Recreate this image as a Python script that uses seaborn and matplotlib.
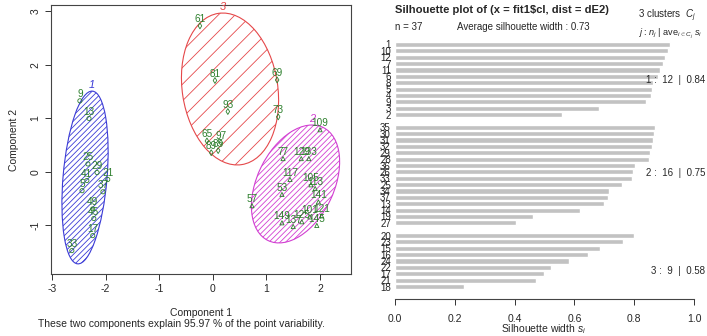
import numpy as np
import pandas as pd
import matplotlib
matplotlib.use("Agg")
import matplotlib.pyplot as plt
from matplotlib.patches import Ellipse
import seaborn as sns

# clusplot: point labels, components, cluster ids
pt_labels = ['9', '13', '25', '29', '41', '5', '21', '37', '49', '45', '17', '33',
             '61', '81', '69', '93', '73', '65', '97', '89', '85',
             '109', '77', '129', '133', '117', '105', '113', '53', '141', '57',
             '149', '137', '125', '101', '121', '145']
comp1 = [-2.48, -2.31, -2.33, -2.16, -2.35, -2.44, -1.96, -2.05, -2.24, -2.22, -2.24, -2.63,
         -0.24, 0.04, 1.20, 0.28, 1.22, -0.11, 0.15, -0.03, 0.10,
         2.00, 1.31, 1.65, 1.79, 1.44, 1.83, 1.91, 1.29, 1.97, 0.73,
         1.29, 1.50, 1.66, 1.81, 2.03, 1.94]
comp2 = [1.33, 1.00, 0.15, -0.01, -0.16, -0.35, -0.14, -0.37, -0.69, -0.87, -1.19, -1.47,
         2.73, 1.71, 1.72, 1.13, 1.03, 0.58, 0.55, 0.36, 0.40,
         0.79, 0.25, 0.25, 0.25, -0.14, -0.24, -0.31, -0.42, -0.56, -0.63,
         -0.95, -1.02, -0.93, -0.84, -0.82, -1.00]
pt_cluster = [1] * 12 + [3] * 9 + [2] * 16

# spanning ellipses: cluster, center x, center y, width, height, angle
ell_cluster = [1, 3, 2]
ell_cx = [-2.384, 0.321, 1.543]
ell_cy = [-0.103, 1.551, -0.224]
ell_w = [3.24, 2.86, 2.35]
ell_h = [0.82, 1.78, 1.43]
ell_angle = [85.1, 98.8, 64.1]
ell_color = {1: '#3b3bd6', 2: '#d23fd2', 3: '#e5484a'}
ell_hatch = {1: '//////', 2: '//////', 3: '//'}

# silhouette widths
sil_lab1 = ['1', '10', '12', '7', '11', '6', '8', '5', '4', '9', '3', '2']
sil_val1 = [0.920, 0.914, 0.903, 0.895, 0.886, 0.878, 0.862, 0.860, 0.856, 0.838, 0.683, 0.557]
sil_lab2 = ['35', '30', '31', '32', '29', '28', '36', '26', '33', '25', '34', '37', '13', '14', '19', '27']
sil_val2 = [0.870, 0.866, 0.864, 0.861, 0.853, 0.851, 0.804, 0.797, 0.792, 0.760,
            0.716, 0.714, 0.700, 0.620, 0.460, 0.405]
sil_lab3 = ['20', '23', '15', '16', '24', '22', '17', '21', '18']
sil_val3 = [0.799, 0.761, 0.686, 0.647, 0.583, 0.521, 0.498, 0.472, 0.232]

sns.set_style("white")
plt.rcParams['font.family'] = ['Liberation Sans', 'DejaVu Sans']
plt.rcParams['mathtext.fontset'] = 'custom'
plt.rcParams['mathtext.rm'] = 'Liberation Sans'
plt.rcParams['mathtext.it'] = 'Liberation Sans:italic'
plt.rcParams['hatch.linewidth'] = 0.6
plt.rcParams['axes.unicode_minus'] = False

W, H = 707, 336
fig = plt.figure(figsize=(W / 100, H / 100), dpi=100)


def fx(px):
    return px / W


def fy(py):
    return 1 - py / H


# ---------------- left: clusplot ----------------
ax1 = fig.add_axes([fx(51), fy(274), (351 - 51) / W, (274 - 5) / H])
pts = pd.DataFrame({'c1': comp1, 'c2': comp2, 'lab': pt_labels, 'cl': pt_cluster})

for cl, cx, cy, w, h, ang in zip(ell_cluster, ell_cx, ell_cy, ell_w, ell_h, ell_angle):
    col = ell_color[cl]
    ax1.add_patch(Ellipse((cx, cy), w, h, angle=ang, facecolor='none',
                          edgecolor=col, hatch=ell_hatch[cl], lw=0.8))
    # cluster number at the top of the ellipse
    a, b, t = w / 2, h / 2, np.radians(ang)
    hy = np.sqrt(a**2 * np.sin(t)**2 + b**2 * np.cos(t)**2)
    tx = cx + (a**2 - b**2) * np.sin(t) * np.cos(t) / hy
    ax1.text(tx, cy + hy + 0.02, str(cl), color=col, style='italic',
             fontsize=8, ha='center', va='bottom')

green = '#2c7f2c'
sns.scatterplot(data=pts, x='c1', y='c2', style='cl',
                markers={1: 'o', 2: '^', 3: 'd'}, color=green, s=9,
                linewidth=0.6, facecolor='none', edgecolor=green,
                legend=False, ax=ax1)
for _, r in pts.iterrows():
    ax1.annotate(r['lab'], (r['c1'], r['c2']), xytext=(0, 1.2),
                 textcoords='offset points', ha='center', va='bottom',
                 fontsize=7.2, color=green)

ax1.set_xlim(-3.019, 2.578)
ax1.set_ylim(-1.907, 3.121)
ax1.set_xticks(range(-3, 3))
ax1.set_yticks(range(-1, 4))
ax1.tick_params(axis='both', direction='out', length=4, width=0.7,
                labelsize=7.5, color='#333333', bottom=True, left=True)
plt.setp(ax1.get_yticklabels(), rotation=90, va='center')
for s in ax1.spines.values():
    s.set_color('#444444')
    s.set_linewidth(0.8)
ax1.set_xlabel('')
ax1.set_ylabel('Component 2', fontsize=7.5, labelpad=8)
fig.text(fx(201), fy(313), 'Component 1', ha='center', va='center', fontsize=7.5)
fig.text(fx(181), fy(324), 'These two components explain 95.97 % of the point variability.',
         ha='center', va='center', fontsize=7.5)

# ---------------- right: silhouette ----------------
rows = []
for k, (labs, vals) in enumerate([(sil_lab1, sil_val1), (sil_lab2, sil_val2), (sil_lab3, sil_val3)]):
    for l, v in zip(labs, vals):
        rows.append({'obs': l, 'width': v, 'cluster': k + 1})
sil = pd.DataFrame(rows)
order = sil_lab1 + ['_gap1'] + sil_lab2 + ['_gap2'] + sil_lab3

ax2 = fig.add_axes([fx(395), fy(299), 299 / W, (299 - 38) / H])
sns.barplot(data=sil, x='width', y='obs', order=order, orient='h',
            color='#c2c2c2', saturation=1, width=0.8, ax=ax2)
ax2.set_yticks(range(len(order)))
ax2.set_yticklabels(['' if o.startswith('_') else o for o in order], fontsize=7)
ax2.tick_params(axis='y', length=0, pad=3)
ax2.set_ylim(39.96, -1.02)
ax2.set_xlim(0, 1)
ax2.set_xticks(np.arange(0, 1.01, 0.2))
ax2.set_xticklabels([f'{t:.1f}' for t in np.arange(0, 1.01, 0.2)])
ax2.tick_params(axis='x', direction='out', length=4, width=0.7, labelsize=7.5,
                color='#333333', bottom=True, pad=7)
for side in ['top', 'right', 'left']:
    ax2.spines[side].set_visible(False)
ax2.spines['bottom'].set_bounds(0, 1)
ax2.spines['bottom'].set_color('#444444')
ax2.spines['bottom'].set_linewidth(0.8)
ax2.set_ylabel('')
ax2.set_xlabel('')
fig.text(fx(544), fy(329), 'Silhouette width $s_i$', ha='center', va='center', fontsize=7.5)

fig.text(fx(395), fy(10), 'Silhouette plot of (x = fit1\\$cl, dist = dE2)',
         ha='left', va='center', fontsize=8.1, weight='bold')
fig.text(fx(395), fy(27), 'n = 37', ha='left', va='center', fontsize=7)
fig.text(fx(457), fy(27), 'Average silhouette width : 0.73', ha='left', va='center', fontsize=7)
fig.text(fx(638), fy(16), '3 clusters  $C_j$', ha='left', va='center', fontsize=7)
fig.text(fx(638), fy(34), r'$j$ : $n_j$ | ave$_{i\in C_j}$ $s_i$', ha='left', va='center', fontsize=6.6)

# per cluster summary
for k, vals, py in [(1, sil_val1, 80), (2, sil_val2, 173), (3, sil_val3, 271)]:
    fig.text(fx(705), fy(py), f'{k} :  {len(vals)}  |  {np.mean(vals):.2f}',
             ha='right', va='center', fontsize=7)

fig.savefig('out.png', dpi=100)
